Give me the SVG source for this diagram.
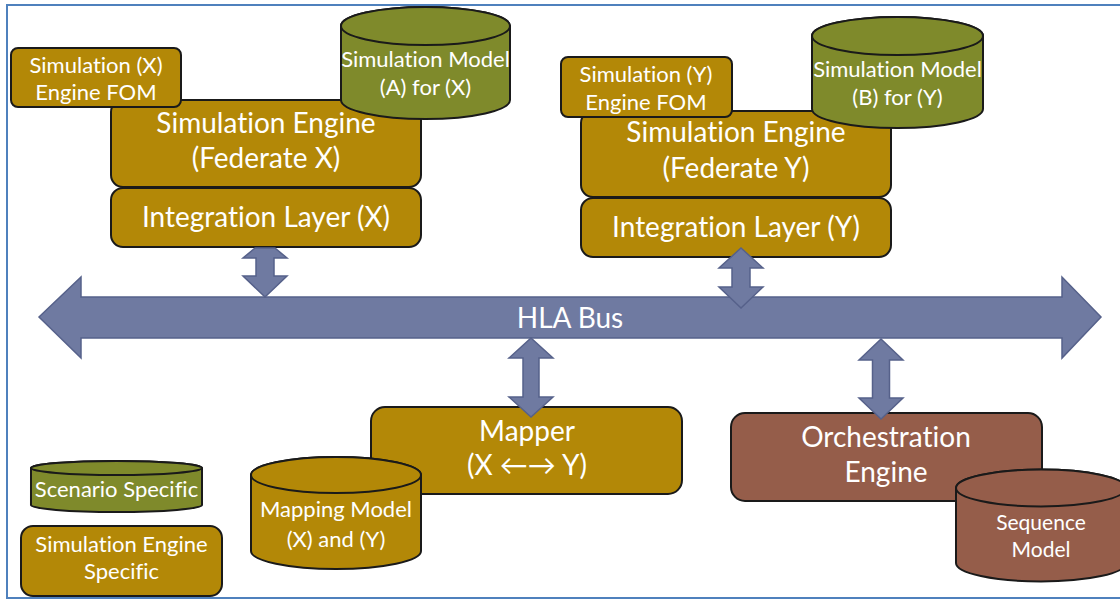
<svg xmlns="http://www.w3.org/2000/svg" width="1120" height="602" viewBox="0 0 1120 602">
  <style>
    .gold { fill: #B38807; stroke: #1A1A1A; stroke-width: 2; }
    .olive { fill: #7F8A2B; stroke: #1A1A1A; stroke-width: 2; }
    .brown { fill: #955D4A; stroke: #1A1A1A; stroke-width: 2; }
    .bus { fill: #6F7AA1; stroke: #56618A; stroke-width: 1.5; stroke-linejoin: miter; }
    text { font-family: Lato, "Open Sans", "Liberation Sans", sans-serif; fill: #FFFFFF; text-anchor: middle; font-variant-ligatures: none; }
    .lg { font-size: 28px; }
    .sm { font-size: 22px; }
    .xs { font-size: 21px; }
  </style>

  <!-- outer frame -->
  <rect x="7" y="5" width="1140" height="593" fill="#FFFFFF" stroke="#4F81BD" stroke-width="2"/>

  <!-- Federate X -->
  <g id="sim-engine-x">
    <rect class="gold" x="111" y="100" width="310" height="87" rx="12"/>
    <text class="lg" x="266" y="133">Simulation Engine</text>
    <text class="lg" x="266" y="168">(Federate X)</text>
  </g>
  <g id="fom-x">
    <rect class="gold" x="11" y="48" width="170" height="59" rx="7"/>
    <text class="sm" x="96" y="73">Simulation (X)</text>
    <text class="sm" x="96" y="100">Engine FOM</text>
  </g>
  <g id="model-a">
    <path class="olive" d="M341,26 A84.5,19 0 0 1 510,26 L510,100 A84.5,19 0 0 1 341,100 Z"/>
    <ellipse class="olive" cx="425.5" cy="26" rx="84.5" ry="19"/>
    <text class="sm" x="425.5" y="67">Simulation Model</text>
    <text class="sm" x="425.5" y="95">(A) for (X)</text>
  </g>
  <g id="integration-x">
    <rect class="gold" x="111" y="188" width="310" height="59" rx="12"/>
    <text class="lg" x="266" y="227">Integration Layer (X)</text>
  </g>

  <!-- Federate Y -->
  <g id="sim-engine-y">
    <rect class="gold" x="581" y="111" width="310" height="86" rx="12"/>
    <text class="lg" x="736" y="142">Simulation Engine</text>
    <text class="lg" x="736" y="178">(Federate Y)</text>
  </g>
  <g id="fom-y">
    <rect class="gold" x="561" y="57" width="171" height="60" rx="7"/>
    <text class="sm" x="646" y="82">Simulation (Y)</text>
    <text class="sm" x="646" y="110">Engine FOM</text>
  </g>
  <g id="model-b">
    <path class="olive" d="M812,36 A85.5,19 0 0 1 983,36 L983,109 A85.5,19 0 0 1 812,109 Z"/>
    <ellipse class="olive" cx="897.5" cy="36" rx="85.5" ry="19"/>
    <text class="sm" x="897.5" y="77">Simulation Model</text>
    <text class="sm" x="897.5" y="105">(B) for (Y)</text>
  </g>
  <g id="integration-y">
    <rect class="gold" x="581" y="198" width="310" height="59" rx="12"/>
    <text class="lg" x="736" y="237">Integration Layer (Y)</text>
  </g>

  <!-- HLA bus -->
  <g id="hla-bus">
    <polygon class="bus" points="39,317 81,277 81,297 1062,297 1062,277 1101,317 1062,358 1062,338 81,338 81,358"/>
    <text class="lg" x="570" y="328">HLA Bus</text>
  </g>

  <!-- Mapper -->
  <g id="mapper">
    <rect class="gold" x="371" y="407" width="311" height="87" rx="14"/>
    <text class="lg" x="527" y="441">Mapper</text>
    <text class="lg" x="527" y="475">(X ←→ Y)</text>
  </g>
  <g id="mapping-model">
    <path class="gold" d="M251,475 A85,18 0 0 1 421,475 L421,551 A85,18 0 0 1 251,551 Z"/>
    <ellipse class="gold" cx="336" cy="475" rx="85" ry="18"/>
    <text class="sm" x="336" y="517">Mapping Model</text>
    <text class="sm" x="336" y="547">(X) and (Y)</text>
  </g>

  <!-- Orchestration -->
  <g id="orchestration-engine">
    <rect class="brown" x="731" y="413" width="311" height="88" rx="14"/>
    <text class="lg" x="886" y="447">Orchestration</text>
    <text class="lg" x="886" y="482">Engine</text>
  </g>
  <g id="sequence-model">
    <path class="brown" d="M956,488 A85,18.5 0 0 1 1126,488 L1126,563 A85,18.5 0 0 1 956,563 Z"/>
    <ellipse class="brown" cx="1041" cy="488" rx="85" ry="18.5"/>
    <text class="xs" x="1041" y="530">Sequence</text>
    <text class="xs" x="1041" y="557">Model</text>
  </g>

  <!-- legend -->
  <g id="legend-scenario">
    <path class="olive" d="M31,468 A85.5,7 0 0 1 202,468 L202,505 A85.5,7 0 0 1 31,505 Z"/>
    <ellipse class="olive" cx="116.5" cy="468" rx="85.5" ry="7"/>
    <text class="sm" x="116.5" y="497">Scenario Specific</text>
  </g>
  <g id="legend-engine">
    <rect class="gold" x="21" y="526" width="201" height="70" rx="12"/>
    <text class="sm" x="121.5" y="552">Simulation Engine</text>
    <text class="sm" x="121.5" y="579">Specific</text>
  </g>

  <!-- bus connectors (double-headed block arrows) -->
  <g id="connectors">
    <!-- X: top head tucked under the integration layer -->
    <polygon class="bus" points="255.1,248 274.9,248 287,258 274,258 274,276 287,276 265,297 243,276 256,276 256,258 243,258"/>
    <polygon class="bus" points="741,248 763,268 750,268 750,287 763,287 741,308 719,287 732,287 732,268 719,268"/>
    <polygon class="bus" points="531,338 553,358 539,358 539,397 553,397 531,417 509,397 523,397 523,358 509,358"/>
    <polygon class="bus" points="881,339 903,360 889.5,360 889.5,398 903,398 881,419 859,398 872.5,398 872.5,360 859,360"/>
  </g>
</svg>
